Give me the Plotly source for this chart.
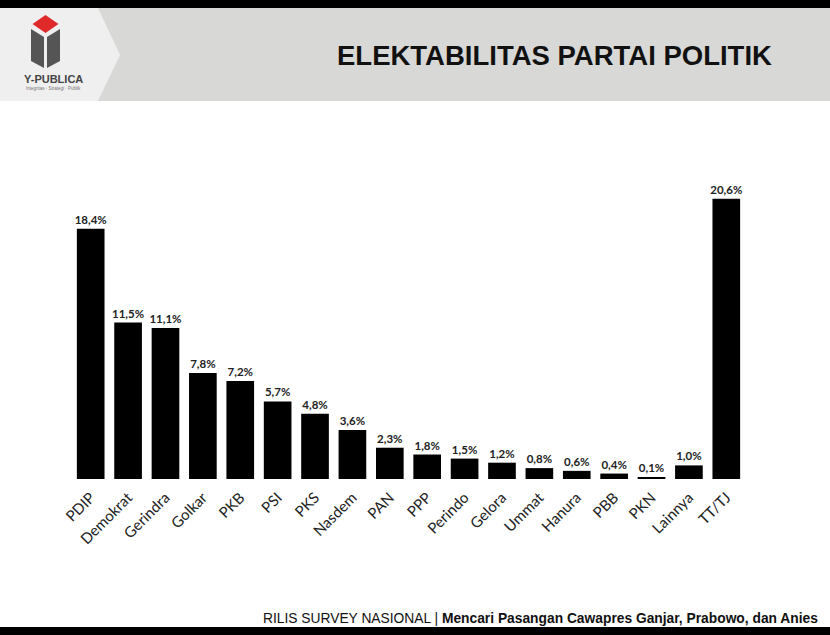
import plotly.graph_objects as go

categories = ["PDIP", "Demokrat", "Gerindra", "Golkar", "PKB", "PSI", "PKS", "Nasdem",
              "PAN", "PPP", "Perindo", "Gelora", "Ummat", "Hanura", "PBB", "PKN",
              "Lainnya", "TT/TJ"]
values = [18.4, 11.5, 11.1, 7.8, 7.2, 5.7, 4.8, 3.6, 2.3, 1.8, 1.5, 1.2, 0.8, 0.6, 0.4, 0.1, 1.0, 20.6]
value_labels = [f"{v:.1f}%".replace(".", ",") for v in values]

W, H = 830, 635
ML, MR, MT, MB = 72, 85, 139, 156
PW = W - ML - MR
PH = H - MT - MB


def px(x):
    return (x - ML) / PW


def py(y):
    return (H - MB - y) / PH


fig = go.Figure()
fig.add_trace(go.Bar(
    x=categories, y=values,
    marker=dict(color="#000000", line=dict(width=0)),
    text=value_labels, textposition="outside", constraintext="none",
    textfont=dict(family="Lato, 'Open Sans', sans-serif", size=11.5, color="#222222", weight="bold"),
    cliponaxis=False,
    width=0.74,
))

shapes = [
    # top black band
    dict(type="rect", xref="paper", yref="paper", x0=px(0), x1=px(W), y0=py(0), y1=py(8),
         fillcolor="#000000", line=dict(width=0), layer="below"),
    # header gray band
    dict(type="rect", xref="paper", yref="paper", x0=px(0), x1=px(W), y0=py(8), y1=py(101),
         fillcolor="#d8d8d6", line=dict(width=0), layer="below"),
    # logo chevron
    dict(type="path", xref="paper", yref="paper",
         path=f"M {px(0)},{py(8)} L {px(98)},{py(8)} L {px(120)},{py(55)} L {px(98)},{py(101)} L {px(0)},{py(101)} Z",
         fillcolor="#efefef", line=dict(width=0), layer="below"),
    # logo: red diamond
    dict(type="path", xref="paper", yref="paper",
         path=f"M {px(45.5)},{py(15)} L {px(58.5)},{py(24)} L {px(45.5)},{py(33)} L {px(32.5)},{py(24)} Z",
         fillcolor="#e02a2a", line=dict(width=0)),
    # logo: left gray face
    dict(type="path", xref="paper", yref="paper",
         path=f"M {px(31)},{py(29)} L {px(44)},{py(37)} L {px(44)},{py(68)} L {px(31)},{py(61)} Z",
         fillcolor="#555555", line=dict(width=0)),
    # logo: right gray face
    dict(type="path", xref="paper", yref="paper",
         path=f"M {px(47)},{py(37)} L {px(60)},{py(29)} L {px(60)},{py(61)} L {px(47)},{py(68)} Z",
         fillcolor="#555555", line=dict(width=0)),
    # bottom black band
    dict(type="rect", xref="paper", yref="paper", x0=px(0), x1=px(W), y0=py(627), y1=py(H),
         fillcolor="#000000", line=dict(width=0), layer="below"),
]

annotations = [
    dict(text="<b>ELEKTABILITAS PARTAI POLITIK</b>", xref="paper", yref="paper",
         x=px(554), y=py(55), xanchor="center", yanchor="middle", showarrow=False,
         font=dict(family="Liberation Sans, Arial, sans-serif", size=27.5, color="#111111")),
    dict(text="<b>Y-PUBLICA</b>", xref="paper", yref="paper",
         x=px(53), y=py(79), xanchor="center", yanchor="middle", showarrow=False,
         font=dict(family="Liberation Sans, Arial, sans-serif", size=11, color="#444444")),
    dict(text="Integritas · Strategi · Publik", xref="paper", yref="paper",
         x=px(53), y=py(88), xanchor="center", yanchor="middle", showarrow=False,
         font=dict(family="Liberation Sans, Arial, sans-serif", size=4.5, color="#777777")),
    dict(text="RILIS SURVEY NASIONAL | <b>Mencari Pasangan Cawapres Ganjar, Prabowo, dan Anies</b>",
         xref="paper", yref="paper", x=px(820), y=py(618), xanchor="right", yanchor="middle",
         showarrow=False,
         font=dict(family="Liberation Sans Narrow, Liberation Sans, Arial, sans-serif", size=13.8, color="#111111")),
]

fig.update_layout(
    width=W, height=H,
    margin=dict(l=ML, r=MR, t=MT, b=MB),
    paper_bgcolor="#ffffff", plot_bgcolor="rgba(0,0,0,0)",
    showlegend=False,
    shapes=shapes, annotations=annotations,
    xaxis=dict(tickangle=-45, showgrid=False, showline=False, zeroline=False,
               ticks="", range=[-0.5, 17.5], ticklabelstandoff=6,
               tickfont=dict(family="Lato, 'Open Sans', sans-serif", size=15, color="#222222")),
    yaxis=dict(range=[0, 25], visible=False, showgrid=False, zeroline=False),
)

fig.write_html("out.html")
